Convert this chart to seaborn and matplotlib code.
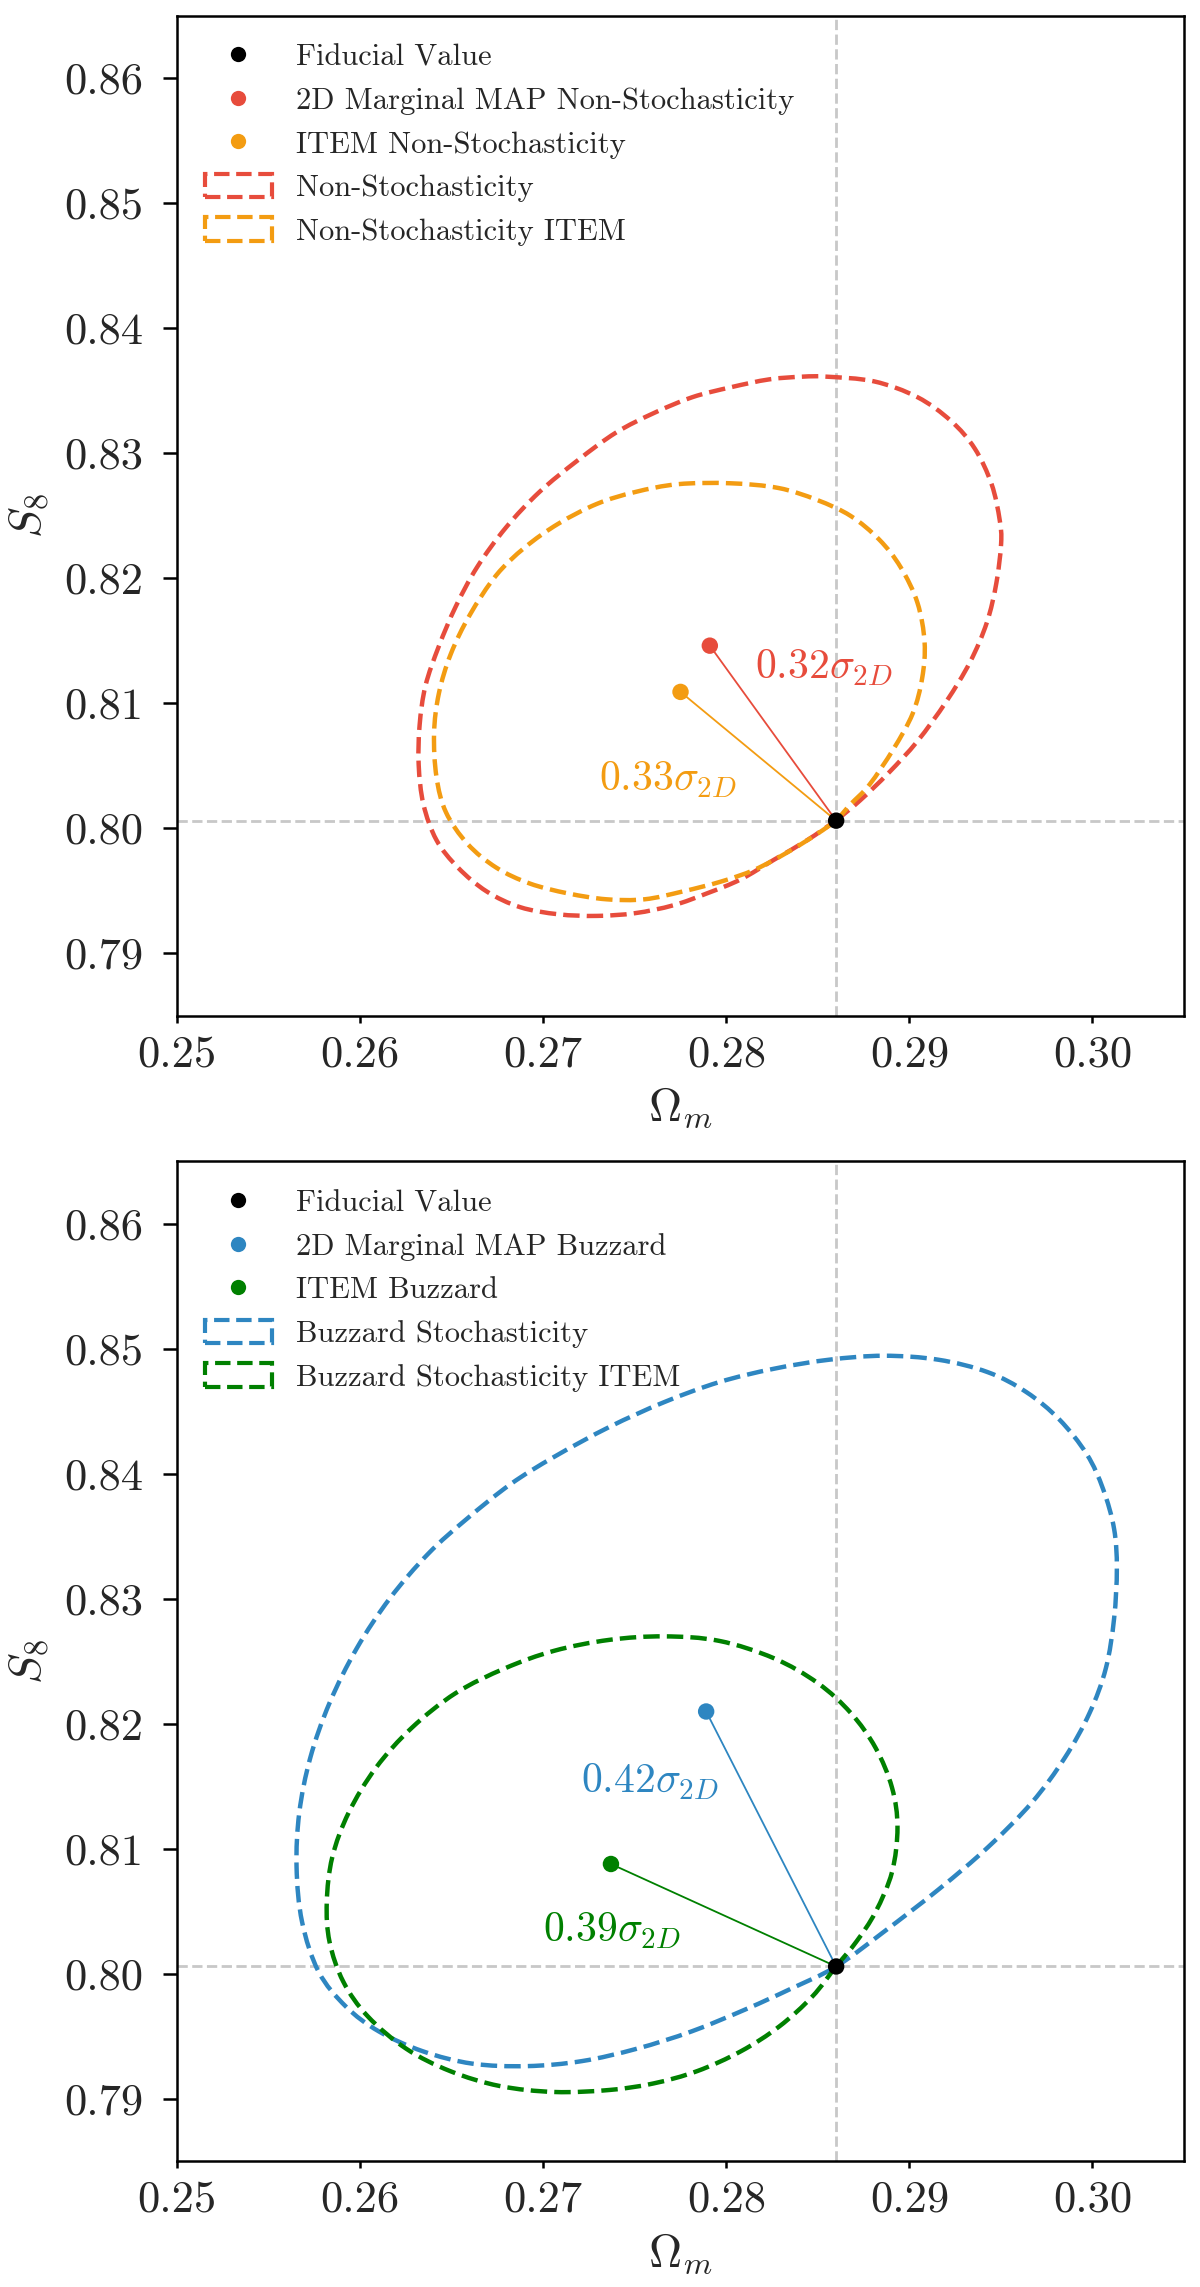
import numpy as np
import pandas as pd
import matplotlib
matplotlib.use("Agg")
import matplotlib.pyplot as plt
import seaborn as sns
from matplotlib.lines import Line2D
from matplotlib.patches import Patch, PathPatch
from matplotlib.path import Path
from matplotlib.ticker import FixedLocator, FormatStrFormatter

# ---------------- data ----------------
fiducial = (0.2860, 0.8006)

# top panel: Non-Stochasticity
red_map = (0.2791, 0.8146)
orange_map = (0.2775, 0.8109)
red_sigma = "0.32"
orange_sigma = "0.33"

red_x = [0.28599, 0.28730, 0.28887, 0.29044, 0.29201, 0.29331, 0.29423, 0.29475, 0.29501, 0.29493,
         0.29449, 0.29357, 0.29227, 0.29044, 0.28808, 0.28547, 0.28416, 0.28233, 0.28024, 0.27815,
         0.27606, 0.27397, 0.27188, 0.26979, 0.26796, 0.26639, 0.26522, 0.26430, 0.26357, 0.26325,
         0.26320, 0.26346, 0.26417, 0.26535, 0.26691, 0.26874, 0.27083, 0.27293, 0.27502, 0.27711,
         0.27894, 0.28077, 0.28260, 0.28443]
red_y = [0.80063, 0.80221, 0.80443, 0.80696, 0.81012, 0.81328, 0.81645, 0.81961, 0.82277, 0.82467,
         0.82752, 0.83037, 0.83258, 0.83448, 0.83574, 0.83612, 0.83612, 0.83590, 0.83527, 0.83448,
         0.83322, 0.83164, 0.82942, 0.82689, 0.82404, 0.82088, 0.81772, 0.81455, 0.81139, 0.80823,
         0.80506, 0.80190, 0.79905, 0.79684, 0.79494, 0.79368, 0.79311, 0.79298, 0.79320, 0.79383,
         0.79478, 0.79589, 0.79747, 0.79905]

orange_x = [0.28599, 0.28678, 0.28782, 0.28913, 0.29018, 0.29070, 0.29083, 0.29044, 0.28952, 0.28835,
            0.28678, 0.28495, 0.28286, 0.28024, 0.27737, 0.27502, 0.27293, 0.27083, 0.26900, 0.26744,
            0.26600, 0.26495, 0.26430, 0.26404, 0.26417, 0.26469, 0.26587, 0.26744, 0.26927, 0.27136,
            0.27345, 0.27554, 0.27763, 0.27972, 0.28155, 0.28338, 0.28495]
orange_y = [0.80063, 0.80190, 0.80348, 0.80633, 0.80917, 0.81202, 0.81487, 0.81803, 0.82088, 0.82309,
            0.82499, 0.82626, 0.82721, 0.82759, 0.82752, 0.82689, 0.82594, 0.82436, 0.82246, 0.82024,
            0.81708, 0.81392, 0.81076, 0.80760, 0.80411, 0.80127, 0.79874, 0.79684, 0.79557, 0.79478,
            0.79431, 0.79431, 0.79494, 0.79573, 0.79668, 0.79810, 0.79953]

# bottom panel: Buzzard
blue_map = (0.2789, 0.8210)
green_map = (0.2737, 0.8088)
blue_sigma = "0.42"
green_sigma = "0.39"

blue_x = [0.28599, 0.28860, 0.29159, 0.29429, 0.29669, 0.29849, 0.29984, 0.30073, 0.30118, 0.30133,
          0.30118, 0.30058, 0.29969, 0.29819, 0.29639, 0.29429, 0.29159, 0.28860, 0.28560, 0.28260,
          0.27961, 0.27661, 0.27361, 0.27061, 0.26822, 0.26582, 0.26372, 0.26162, 0.25982, 0.25833,
          0.25728, 0.25668, 0.25653, 0.25683, 0.25773, 0.25922, 0.26102, 0.26342, 0.26612, 0.26912,
          0.27211, 0.27511, 0.27811, 0.28110, 0.28350]
blue_y = [0.80059, 0.80337, 0.80676, 0.81014, 0.81372, 0.81730, 0.82088, 0.82446, 0.82844, 0.83242,
          0.83561, 0.83879, 0.84158, 0.84436, 0.84655, 0.84814, 0.84914, 0.84946, 0.84914, 0.84842,
          0.84735, 0.84575, 0.84376, 0.84138, 0.83919, 0.83640, 0.83362, 0.83004, 0.82606, 0.82168,
          0.81730, 0.81292, 0.80855, 0.80417, 0.80019, 0.79740, 0.79541, 0.79382, 0.79283, 0.79263,
          0.79303, 0.79402, 0.79541, 0.79720, 0.79880]

green_x = [0.28599, 0.28710, 0.28815, 0.28905, 0.28935, 0.28905, 0.28815, 0.28680, 0.28500, 0.28260,
           0.27961, 0.27661, 0.27361, 0.27061, 0.26792, 0.26522, 0.26282, 0.26087, 0.25938, 0.25848,
           0.25818, 0.25833, 0.25908, 0.26042, 0.26252, 0.26492, 0.26762, 0.27061, 0.27361, 0.27601,
           0.27841, 0.28080, 0.28290, 0.28470]
green_y = [0.80059, 0.80258, 0.80496, 0.80815, 0.81173, 0.81491, 0.81810, 0.82088, 0.82327, 0.82526,
           0.82665, 0.82701, 0.82673, 0.82586, 0.82446, 0.82247, 0.81969, 0.81651, 0.81292, 0.80934,
           0.80576, 0.80258, 0.79939, 0.79661, 0.79402, 0.79223, 0.79104, 0.79056, 0.79072, 0.79124,
           0.79223, 0.79382, 0.79581, 0.79820]

# label anchor positions (data coords)
red_label_pos = (0.28155, 0.81193)
orange_label_pos = (0.27306, 0.80301)
blue_label_pos = (0.27205, 0.81452)
green_label_pos = (0.27001, 0.80258)

x_ticks = [0.25, 0.26, 0.27, 0.28, 0.29, 0.30]
y_ticks = [0.79, 0.80, 0.81, 0.82, 0.83, 0.84, 0.85, 0.86]

RED = "#E74C3C"
ORANGE = "#F39C12"
BLUE = "#2E86C1"
GREEN = "#008000"

# ---------------- style ----------------
sns.set_theme(style="ticks")
plt.rcParams["font.family"] = ["serif"]
plt.rcParams["font.serif"] = ["cmr10", "DejaVu Serif"]
plt.rcParams["mathtext.fontset"] = "cm"
plt.rcParams["axes.formatter.use_mathtext"] = True
plt.rcParams["axes.unicode_minus"] = False

fig = plt.figure(figsize=(12, 22.87), dpi=100)
ax_top = fig.add_axes([0.1475, 0.5559, 0.8392, 0.43725])
ax_bot = fig.add_axes([0.1475, 0.05488, 0.8392, 0.43725])


def smooth_closed_path(xs, ys):
    """Closed curve through the read contour points, drawn as cubic Bezier
    segments (Catmull-Rom tangents) so the contour is rendered smoothly."""
    p = np.column_stack([xs, ys])
    n = len(p)
    verts = [p[0]]
    codes = [Path.MOVETO]
    for i in range(n):
        p0, p1, p2, p3 = p[i - 1], p[i], p[(i + 1) % n], p[(i + 2) % n]
        verts += [p1 + (p2 - p0) / 6.0, p2 - (p3 - p1) / 6.0, p2]
        codes += [Path.CURVE4] * 3
    return Path(verts, codes)


def panel(ax, c1, c2, cx1, cy1, cx2, cy2, map1, map2, s1, s2, p1, p2, names):
    ax.axvline(fiducial[0], color="#c8c8c8", ls="--", lw=2, zorder=1)
    ax.axhline(fiducial[1], color="#c8c8c8", ls="--", lw=2, zorder=1)

    for cx, cy, c in ((cx1, cy1, c1), (cx2, cy2, c2)):
        ax.add_patch(PathPatch(smooth_closed_path(cx, cy), fill=False, edgecolor=c,
                               lw=3.2, ls="--", zorder=2))

    for m, c in ((map1, c1), (map2, c2)):
        sns.lineplot(x=[m[0], fiducial[0]], y=[m[1], fiducial[1]], color=c, lw=1.3,
                     ax=ax, sort=False, estimator=None, zorder=3)
    sns.scatterplot(x=[map1[0]], y=[map1[1]], color=c1, s=140, edgecolor="none", ax=ax, zorder=4)
    sns.scatterplot(x=[map2[0]], y=[map2[1]], color=c2, s=140, edgecolor="none", ax=ax, zorder=4)
    sns.scatterplot(x=[fiducial[0]], y=[fiducial[1]], color="black", s=140, edgecolor="none",
                    ax=ax, zorder=5)

    ax.text(p1[0], p1[1], r"$%s\sigma_{2D}$" % s1, color=c1, fontsize=30,
            ha="left", va="baseline")
    ax.text(p2[0], p2[1], r"$%s\sigma_{2D}$" % s2, color=c2, fontsize=30,
            ha="left", va="baseline")

    ax.set_xlim(0.25, 0.305)
    ax.set_ylim(0.785, 0.865)
    ax.xaxis.set_major_locator(FixedLocator(x_ticks))
    ax.yaxis.set_major_locator(FixedLocator(y_ticks))
    ax.xaxis.set_major_formatter(FormatStrFormatter("%.2f"))
    ax.yaxis.set_major_formatter(FormatStrFormatter("%.2f"))
    ax.tick_params(axis="x", labelsize=32, length=5, width=1.8, pad=9, color="black")
    ax.tick_params(axis="y", labelsize=32, length=10, width=1.8, pad=14, color="black")
    for sp in ax.spines.values():
        sp.set_linewidth(1.8)
        sp.set_color("black")
    ax.set_xlabel(r"$\Omega_m$", fontsize=33, labelpad=8)
    ax.set_ylabel(r"$S_8$", fontsize=33, labelpad=10)

    handles = [
        Line2D([], [], ls="none", marker="o", markersize=11, color="black", markeredgecolor="none"),
        Line2D([], [], ls="none", marker="o", markersize=11, color=c1, markeredgecolor="none"),
        Line2D([], [], ls="none", marker="o", markersize=11, color=c2, markeredgecolor="none"),
        Patch(facecolor="none", edgecolor=c1, ls="--", lw=3),
        Patch(facecolor="none", edgecolor=c2, ls="--", lw=3),
    ]
    ax.legend(handles, names, loc="upper left", frameon=False, fontsize=22,
              handlelength=2.2, handleheight=0.8, borderaxespad=0.5)


panel(ax_top, RED, ORANGE, red_x, red_y, orange_x, orange_y, red_map, orange_map,
      red_sigma, orange_sigma, red_label_pos, orange_label_pos,
      ["Fiducial Value", "2D Marginal MAP Non-Stochasticity", "ITEM Non-Stochasticity",
       "Non-Stochasticity", "Non-Stochasticity ITEM"])
panel(ax_bot, BLUE, GREEN, blue_x, blue_y, green_x, green_y, blue_map, green_map,
      blue_sigma, green_sigma, blue_label_pos, green_label_pos,
      ["Fiducial Value", "2D Marginal MAP Buzzard", "ITEM Buzzard",
       "Buzzard Stochasticity", "Buzzard Stochasticity ITEM"])

fig.savefig("out.png", dpi=100)
